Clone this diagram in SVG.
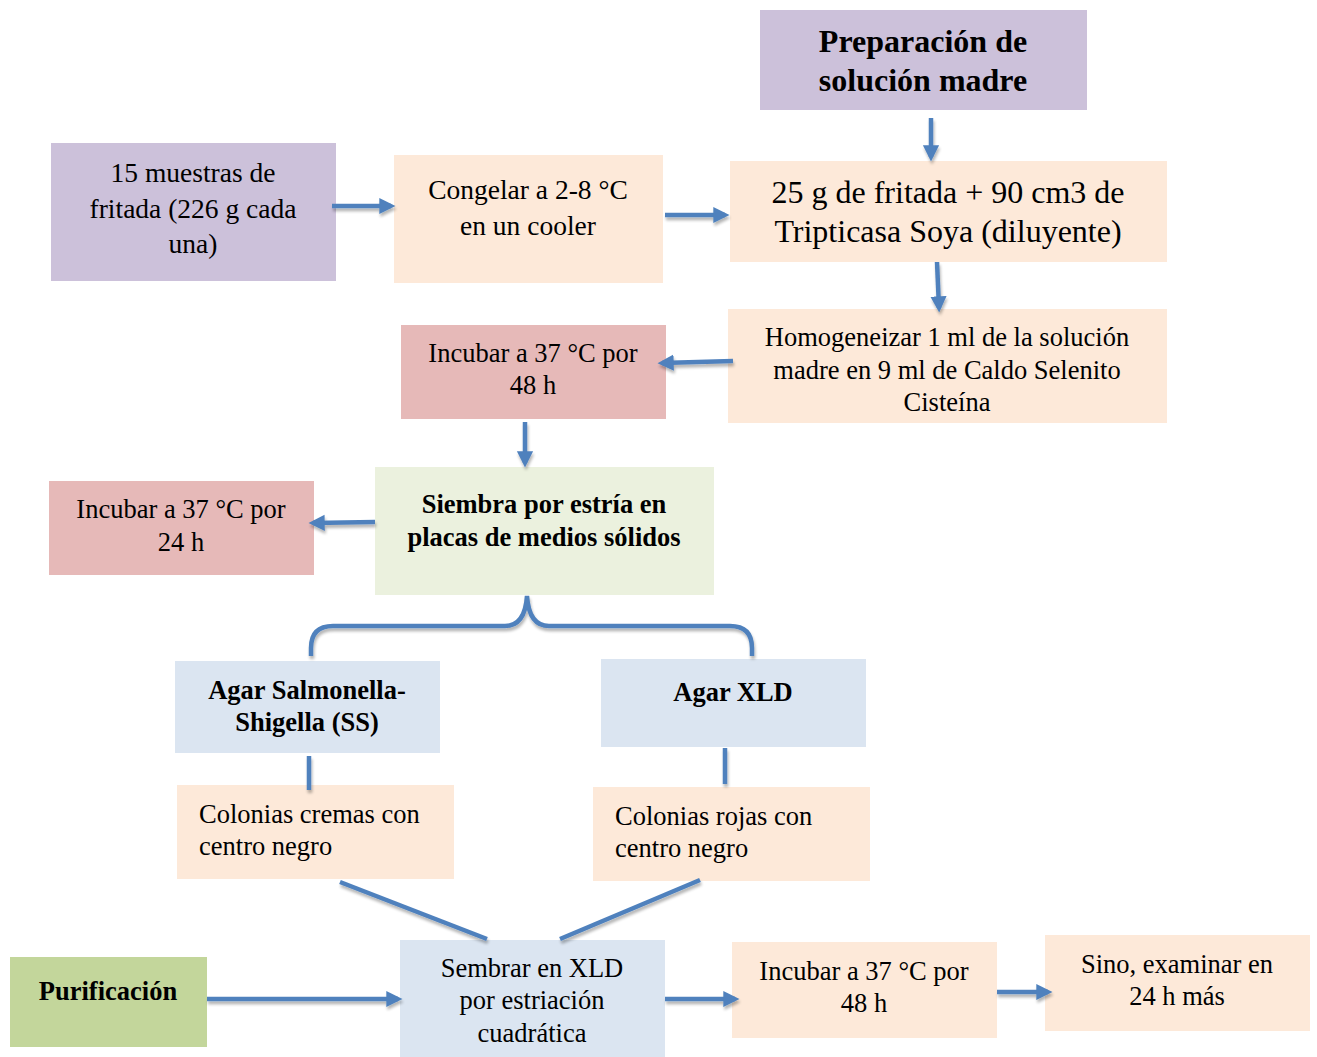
<svg xmlns="http://www.w3.org/2000/svg" width="1317" height="1057" viewBox="0 0 1317 1057">
<style>
text{font-family:"Liberation Serif","Times New Roman",serif;fill:#000;}
.c{text-anchor:middle;}
.b{font-weight:bold;}
.purple{fill:#CCC1DA;}
.peach{fill:#FDE9D9;}
.red{fill:#E6B9B8;}
.green{fill:#EBF1DE;}
.blue{fill:#DBE5F1;}
.dgreen{fill:#C3D69B;}
.ln{stroke:#4F81BD;stroke-width:4.5;fill:none;filter:url(#sh);}
.ar{marker-end:url(#ah);}
</style>
<defs>
<marker id="ah" markerWidth="4" markerHeight="4" refX="2.6" refY="2" orient="auto" markerUnits="strokeWidth">
<path d="M0,0.2 L3.6,2 L0,3.8 z" fill="#4F81BD"/>
</marker>
<filter id="sh" filterUnits="userSpaceOnUse" x="0" y="0" width="1317" height="1057">
<feGaussianBlur in="SourceAlpha" stdDeviation="1.5"/>
<feOffset dx="1" dy="2.5" result="o"/>
<feComponentTransfer><feFuncA type="linear" slope="0.3"/></feComponentTransfer>
<feMerge><feMergeNode/><feMergeNode in="SourceGraphic"/></feMerge>
</filter>
</defs>

<g id="n-preparacion"><rect class="purple" x="760" y="10" width="327" height="100"/>
<text class="c b" x="923" y="52" font-size="32">Preparación de</text>
<text class="c b" x="923" y="91" font-size="32">solución madre</text></g>

<g id="n-muestras"><rect class="purple" x="51" y="143" width="285" height="138"/>
<text class="c" x="193" y="182" font-size="27.5">15 muestras de</text>
<text class="c" x="193" y="218" font-size="27.5">fritada (226 g cada</text>
<text class="c" x="193" y="253" font-size="27.5">una)</text></g>

<g id="n-congelar"><rect class="peach" x="394" y="155" width="269" height="128"/>
<text class="c" x="528" y="199" font-size="27.5">Congelar a 2-8 °C</text>
<text class="c" x="528" y="235" font-size="27.5">en un cooler</text></g>

<g id="n-fritada"><rect class="peach" x="730" y="161" width="437" height="101"/>
<text class="c" x="948" y="203" font-size="32">25 g de fritada + 90 cm3 de</text>
<text class="c" x="948" y="242" font-size="32">Tripticasa Soya (diluyente)</text></g>

<g id="n-homogeneizar"><rect class="peach" x="728" y="309" width="439" height="114"/>
<text class="c" x="947" y="346" font-size="26.5">Homogeneizar 1 ml de la solución</text>
<text class="c" x="947" y="379" font-size="26.5">madre en 9 ml de Caldo Selenito</text>
<text class="c" x="947" y="411" font-size="26.5">Cisteína</text></g>

<g id="n-incubar48a"><rect class="red" x="401" y="325" width="265" height="94"/>
<text class="c" x="533" y="362" font-size="26.5">Incubar a 37 °C por</text>
<text class="c" x="533" y="394" font-size="26.5">48 h</text></g>

<g id="n-siembra"><rect class="green" x="375" y="467" width="339" height="128"/>
<text class="c b" x="544" y="513" font-size="26.5">Siembra por estría en</text>
<text class="c b" x="544" y="546" font-size="26.5">placas de medios sólidos</text></g>

<g id="n-incubar24"><rect class="red" x="49" y="481" width="265" height="94"/>
<text class="c" x="181" y="518" font-size="26.5">Incubar a 37 °C por</text>
<text class="c" x="181" y="551" font-size="26.5">24 h</text></g>

<g id="n-agarss"><rect class="blue" x="175" y="661" width="265" height="92"/>
<text class="c b" x="307" y="699" font-size="26.5">Agar Salmonella-</text>
<text class="c b" x="307" y="731" font-size="26.5">Shigella (SS)</text></g>

<g id="n-agarxld"><rect class="blue" x="601" y="659" width="265" height="88"/>
<text class="c b" x="733" y="701" font-size="26.5">Agar XLD</text></g>

<g id="n-cremas"><rect class="peach" x="177" y="785" width="277" height="94"/>
<text x="199" y="823" font-size="26.5">Colonias cremas con</text>
<text x="199" y="855" font-size="26.5">centro negro</text></g>

<g id="n-rojas"><rect class="peach" x="593" y="787" width="277" height="94"/>
<text x="615" y="825" font-size="26.5">Colonias rojas con</text>
<text x="615" y="857" font-size="26.5">centro negro</text></g>

<g id="n-purificacion"><rect class="dgreen" x="10" y="957" width="197" height="90"/>
<text class="c b" x="108" y="1000" font-size="26.5">Purificación</text></g>

<g id="n-sembrar"><rect class="blue" x="400" y="940" width="265" height="117"/>
<text class="c" x="532" y="977" font-size="26.5">Sembrar en XLD</text>
<text class="c" x="532" y="1009" font-size="26.5">por estriación</text>
<text class="c" x="532" y="1042" font-size="26.5">cuadrática</text></g>

<g id="n-incubar48b"><rect class="peach" x="732" y="942" width="265" height="96"/>
<text class="c" x="864" y="980" font-size="26.5">Incubar a 37 °C por</text>
<text class="c" x="864" y="1012" font-size="26.5">48 h</text></g>

<g id="n-sino"><rect class="peach" x="1045" y="935" width="265" height="96"/>
<text class="c" x="1177" y="973" font-size="26.5">Sino, examinar en</text>
<text class="c" x="1177" y="1005" font-size="26.5">24 h más</text></g>

<g id="connectors">
<line class="ln ar" x1="931" y1="118" x2="931" y2="157"/>
<line class="ln ar" x1="332" y1="206" x2="391" y2="206"/>
<line class="ln ar" x1="665" y1="215" x2="725" y2="215"/>
<line class="ln ar" x1="937" y1="262" x2="939" y2="308"/>
<line class="ln ar" x1="733" y1="361" x2="662" y2="363"/>
<line class="ln ar" x1="525" y1="422" x2="525" y2="463"/>
<line class="ln ar" x1="375" y1="522" x2="313" y2="523"/>
<path class="ln" d="M311,656 V648 Q311,626 333,626 H505 Q525,626 527,596 Q529,626 549,626 H730 Q752,626 752,648 V656"/>
<line class="ln" x1="309" y1="756" x2="309" y2="790"/>
<line class="ln" x1="725" y1="748" x2="725" y2="784"/>
<line class="ln" x1="340" y1="882" x2="487" y2="939"/>
<line class="ln" x1="700" y1="880" x2="560" y2="939"/>
<line class="ln ar" x1="207" y1="999" x2="398" y2="999"/>
<line class="ln ar" x1="665" y1="999" x2="735" y2="999"/>
<line class="ln ar" x1="997" y1="992" x2="1048" y2="992"/>
</g>
</svg>
